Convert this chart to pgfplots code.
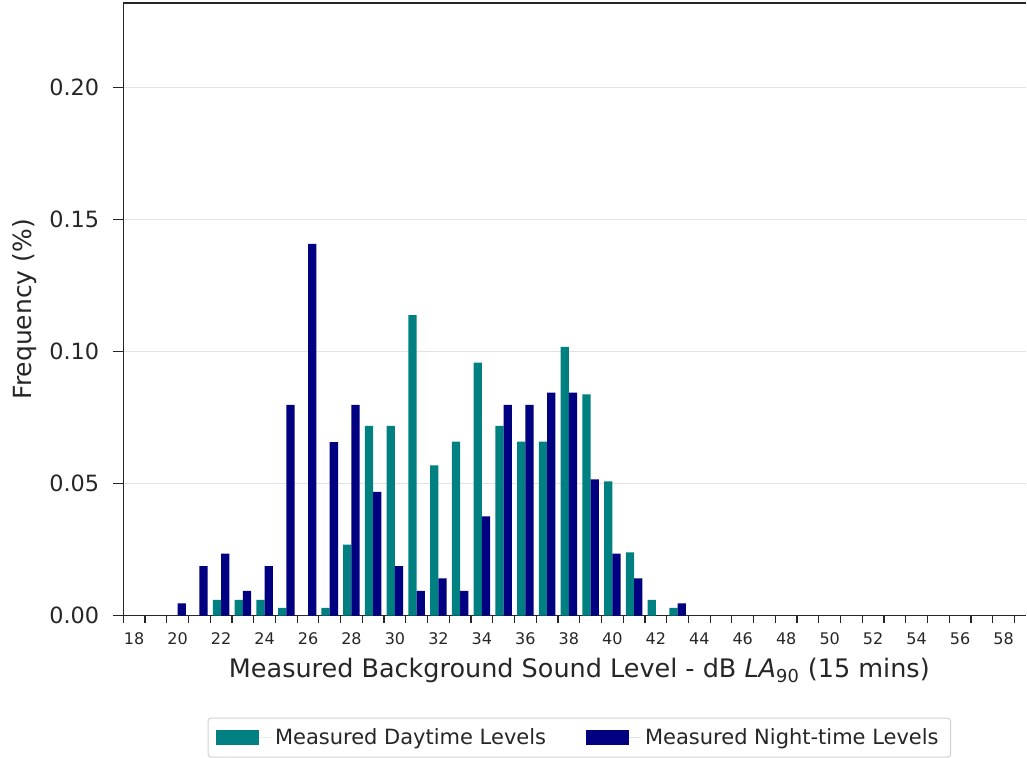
\documentclass[border=0pt]{standalone}
\usepackage{fontspec}
\setmainfont{DejaVu Sans}
\usepackage{pgfplots}
\usepackage{pgfplotstable}
\pgfplotsset{compat=1.18}
\definecolor{dayc}{HTML}{008080}
\definecolor{nightc}{HTML}{000080}
\definecolor{spine}{HTML}{262626}

\pgfplotstableread{
x day night
20 0 0.0047
21 0 0.0188
22 0.0060 0.0235
23 0.0060 0.0094
24 0.0060 0.0188
25 0.0030 0.0798
26 0 0.1408
27 0.0030 0.0657
28 0.0269 0.0798
29 0.0719 0.0469
30 0.0719 0.0188
31 0.1138 0.0094
32 0.0569 0.0141
33 0.0659 0.0094
34 0.0958 0.0376
35 0.0719 0.0798
36 0.0659 0.0798
37 0.0659 0.0845
38 0.1018 0.0845
39 0.0838 0.0516
40 0.0509 0.0235
41 0.0240 0.0141
42 0.0060 0
43 0.0030 0.0047
}\datatable

\begin{document}
\begin{tikzpicture}
\begin{axis}[
  scale only axis,
  width=451.8pt, height=306.5pt,
  xmin=17.5, xmax=59.05,
  ymin=0, ymax=0.232,
  axis x line*=box, axis y line*=left,
  axis line style={line width=0.6pt, draw=spine},
  ybar=0pt, bar width=0.38,
  tick align=outside,
  xtick pos=left, ytick pos=left,
  xtick={18,20,...,58},
  xtick style={draw=none},
  minor xtick={17.5,18.5,...,58.5},
  minor tick length=3.5pt,
  major tick length=5pt,
  every tick/.style={line width=0.6pt, draw=spine},
  minor x tick style={line width=0.6pt, draw=spine},
  ytick={0,0.05,0.1,0.15,0.2},
  yticklabel style={/pgf/number format/fixed, /pgf/number format/fixed zerofill, /pgf/number format/precision=2, font=\fontsize{11.2pt}{13pt}\selectfont, xshift=-3.5pt},
  /pgf/number format/assume math mode=true,
  ticklabel style={text=spine},
  xticklabel style={font=\fontsize{8pt}{10pt}\selectfont},
  ymajorgrids,
  major grid style={draw=gray!22, line width=0.6pt},
  xlabel={Measured Background Sound Level - dB \textit{LA}\textsubscript{90} (15 mins)},
  ylabel={Frequency (\%)},
  every axis x label/.style={at={(axis description cs:0.505,0)}, anchor=base, yshift=-31pt, font=\fontsize{12.75pt}{14pt}\selectfont, text=spine},
  every axis y label/.style={at={(axis description cs:-0.1093,0.5)}, anchor=center, rotate=90, font=\fontsize{12.5pt}{14pt}\selectfont, text=spine},
  legend columns=2,
  legend style={at={(axis description cs:0.505,-0.1664)}, anchor=north,
    draw=gray!35, rounded corners=1.5pt, line width=0.5pt,
    font=\fontsize{10.5pt}{12pt}\selectfont, text=spine,
    inner xsep=4pt, inner ysep=3pt,
    /tikz/every even column/.append style={column sep=18pt}},
  legend cell align=left,
  legend image code/.code={\fill[#1, draw=none, sharp corners] (0pt,-3.75pt) rectangle (21.5pt,3.75pt); \path (0pt,0pt) -- (27.5pt,0pt);},
]
\addplot[fill=dayc, draw=none] table[x=x, y=day] {\datatable};
\addplot[fill=nightc, draw=none] table[x=x, y=night] {\datatable};
\legend{Measured Daytime Levels, Measured Night-time Levels}
\end{axis}
\path ([xshift=-61.65pt,yshift=1.5pt]current axis.north west) -- ([xshift=-61.65pt,yshift=1.5pt]current axis.north west);
\end{tikzpicture}
\end{document}
